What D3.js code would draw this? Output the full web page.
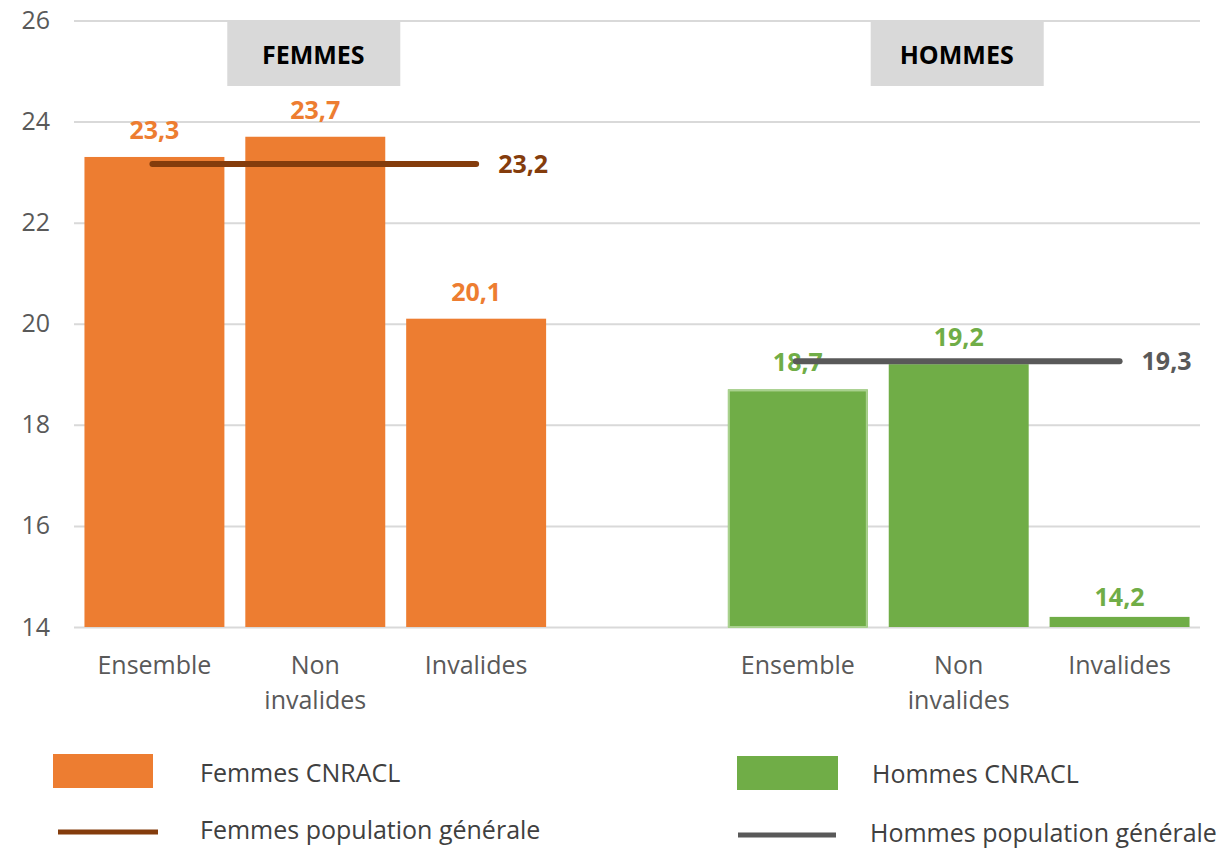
<!DOCTYPE html>
<html>
<head>
<meta charset="utf-8">
<script src="https://cdn.jsdelivr.net/npm/d3@7"></script>
<style>
  body { margin: 0; background: #fff; }
  svg text { font-family: "Open Sans", "Noto Sans", sans-serif; }
</style>
</head>
<body>
<svg class="chart" width="1223" height="849"></svg>
<script>
// data
var slots = ["F-Ensemble", "F-Non", "F-Invalides", "gap", "H-Ensemble", "H-Non", "H-Invalides"];
var slotLabels = ["Ensemble", "Non\ninvalides", "Invalides", "", "Ensemble", "Non\ninvalides", "Invalides"];
var femmesCnracl = [23.3, 23.7, 20.1];
var hommesCnracl = [18.7, 19.2, 14.2];
var femmesPop = 23.2;
var hommesPop = 19.3;
var yTicks = [14, 16, 18, 20, 22, 24, 26];

var orange = "#ed7d31", green = "#70ad47", brown = "#843c0c", grey = "#595959";

var svg = d3.select("svg.chart");

var x = d3.scaleBand()
    .domain(slots)
    .range([74, 1200])
    .paddingInner(0.13)
    .paddingOuter(0.065);

var y = d3.scaleLinear()
    .domain([14, 26])
    .range([627, 20.5]);

// gridlines + y labels
var yAxis = svg.append("g")
    .attr("transform", "translate(74,0)")
    .call(d3.axisLeft(y).tickValues(yTicks).tickSize(-1126).tickPadding(24).tickFormat(d3.format("d")));
yAxis.select(".domain").remove();
yAxis.selectAll(".tick line").attr("stroke", "#d9d9d9").attr("stroke-width", 2);
yAxis.selectAll(".tick text").attr("fill", grey).style("font-size", "25px");

// bars
var bars = [];
femmesCnracl.forEach(function(v, i) { bars.push({key: slots[i], value: v, color: orange}); });
hommesCnracl.forEach(function(v, i) { bars.push({key: slots[i + 4], value: v, color: green}); });

svg.selectAll("rect.bar")
    .data(bars)
    .enter()
    .append("rect")
    .attr("class", "bar")
    .attr("x", function(d) { return x(d.key); })
    .attr("width", x.bandwidth())
    .attr("y", function(d) { return y(d.value); })
    .attr("height", function(d) { return y(14) - y(d.value); })
    .attr("fill", function(d) { return d.color; });

// lighter edge on the hommes ensemble bar, like the original
svg.append("rect")
    .attr("x", x("H-Ensemble") + 1)
    .attr("y", y(hommesCnracl[0]) + 1)
    .attr("width", x.bandwidth() - 2)
    .attr("height", y(14) - y(hommesCnracl[0]) - 1)
    .attr("fill", "none")
    .attr("stroke", "#a9d18e")
    .attr("stroke-width", 2);

// bar labels
svg.selectAll("text.val")
    .data(bars)
    .enter()
    .append("text")
    .attr("class", "val")
    .attr("x", function(d) { return x(d.key) + x.bandwidth() / 2; })
    .attr("y", function(d) { return y(d.value) - (d.value < 15 ? 11 : 18); })
    .attr("text-anchor", "middle")
    .attr("fill", function(d) { return d.color; })
    .style("font-size", "25px")
    .style("font-weight", "bold")
    .text(function(d) { return String(d.value).replace(".", ","); });

// population lines
var popLines = [
    {from: "F-Ensemble", to: "F-Invalides", value: femmesPop, color: brown},
    {from: "H-Ensemble", to: "H-Invalides", value: hommesPop, color: grey}
];
var half = x.bandwidth() / 2;
svg.selectAll("line.pop")
    .data(popLines)
    .enter()
    .append("line")
    .attr("class", "pop")
    .attr("x1", function(d) { return x(d.from) + half - 2; })
    .attr("x2", function(d) { return x(d.to) + half; })
    .attr("y1", function(d) { return y(d.value) + 2; })
    .attr("y2", function(d) { return y(d.value) + 2; })
    .attr("stroke", function(d) { return d.color; })
    .attr("stroke-width", 6)
    .attr("stroke-linecap", "round");

svg.selectAll("text.pop")
    .data(popLines)
    .enter()
    .append("text")
    .attr("class", "pop")
    .attr("x", function(d) { return x(d.to) + half + 22; })
    .attr("y", function(d) { return y(d.value) + 11; })
    .attr("fill", function(d) { return d.color; })
    .style("font-size", "25px")
    .style("font-weight", "bold")
    .text(function(d) { return String(d.value).replace(".", ","); });

// header boxes
var headers = [{key: "F-Non", text: "FEMMES"}, {key: "H-Non", text: "HOMMES"}];
var hdr = svg.selectAll("g.hdr")
    .data(headers)
    .enter()
    .append("g")
    .attr("class", "hdr")
    .attr("transform", function(d) { return "translate(" + (x(d.key) + half) + ",0)"; });
hdr.append("rect")
    .attr("x", -88).attr("y", 22).attr("width", 173).attr("height", 64)
    .attr("fill", "#d9d9d9");
hdr.append("text")
    .attr("x", -2).attr("y", 64)
    .attr("text-anchor", "middle")
    .attr("fill", "#000")
    .style("font-size", "25px")
    .style("font-weight", "bold")
    .text(function(d) { return d.text; });

// x labels
var xl = svg.selectAll("text.xl")
    .data(slots)
    .enter()
    .append("text")
    .attr("class", "xl")
    .attr("text-anchor", "middle")
    .attr("fill", grey)
    .style("font-size", "25px")
    .attr("transform", function(d) { return "translate(" + (x(d) + half) + ",674)"; });
xl.selectAll("tspan")
    .data(function(d, i) { return slotLabels[i].split("\n"); })
    .enter()
    .append("tspan")
    .attr("x", 0)
    .attr("dy", function(d, i) { return i ? 35 : 0; })
    .text(function(d) { return d; });

// legend
var legend = svg.append("g").attr("class", "legend");
legend.append("rect").attr("x", 53).attr("y", 754).attr("width", 100).attr("height", 34).attr("fill", orange);
legend.append("rect").attr("x", 737).attr("y", 756).attr("width", 101).attr("height", 34).attr("fill", green);
legend.append("line").attr("x1", 58).attr("x2", 158).attr("y1", 832).attr("y2", 832).attr("stroke", brown).attr("stroke-width", 5);
legend.append("line").attr("x1", 738).attr("x2", 836).attr("y1", 835).attr("y2", 835).attr("stroke", grey).attr("stroke-width", 5);

var legendTexts = [
    {x: 200, y: 782, t: "Femmes CNRACL"},
    {x: 200, y: 839, t: "Femmes population générale"},
    {x: 872, y: 783, t: "Hommes CNRACL"},
    {x: 870, y: 842, t: "Hommes population générale"}
];
legend.selectAll("text")
    .data(legendTexts)
    .enter()
    .append("text")
    .attr("x", function(d) { return d.x; })
    .attr("y", function(d) { return d.y; })
    .attr("fill", "#404040")
    .style("font-size", "25px")
    .text(function(d) { return d.t; });
</script>
</body>
</html>
